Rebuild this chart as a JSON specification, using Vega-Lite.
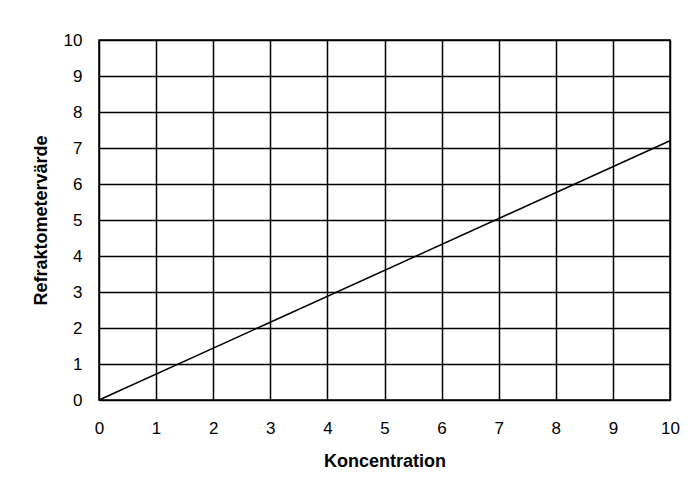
{
  "$schema": "https://vega.github.io/schema/vega-lite/v6.json",
  "width": 571,
  "height": 360,
  "autosize": {"type": "none"},
  "padding": {"left": 99, "top": 40, "right": 22, "bottom": 91},
  "background": "white",
  "config": {
    "view": {"stroke": "black", "strokeWidth": 1.5},
    "axis": {
      "labelFont": "Liberation Sans",
      "labelFontSize": 17,
      "labelColor": "black",
      "titleFont": "Liberation Sans",
      "titleFontSize": 18,
      "titleFontWeight": "bold",
      "titleColor": "black",
      "gridColor": "black",
      "gridOpacity": 1,
      "gridWidth": 1.5,
      "domain": false,
      "ticks": false
    }
  },
  "data": {"values": [
    {"Koncentration": 0, "Refraktometervarde": 0},
    {"Koncentration": 10, "Refraktometervarde": 7.2}
  ]},
  "mark": {"type": "line", "color": "black", "strokeWidth": 1.5},
  "encoding": {
    "x": {
      "field": "Koncentration", "type": "quantitative",
      "scale": {"domain": [0, 10], "nice": false},
      "axis": {"title": "Koncentration", "values": [0,1,2,3,4,5,6,7,8,9,10], "labelPadding": 20, "titlePadding": 16, "labelFlush": false}
    },
    "y": {
      "field": "Refraktometervarde", "type": "quantitative",
      "scale": {"domain": [0, 10], "nice": false},
      "axis": {"title": "Refraktometervärde", "values": [0,1,2,3,4,5,6,7,8,9,10], "labelPadding": 17, "titlePadding": 13, "labelFlush": false}
    }
  }
}
